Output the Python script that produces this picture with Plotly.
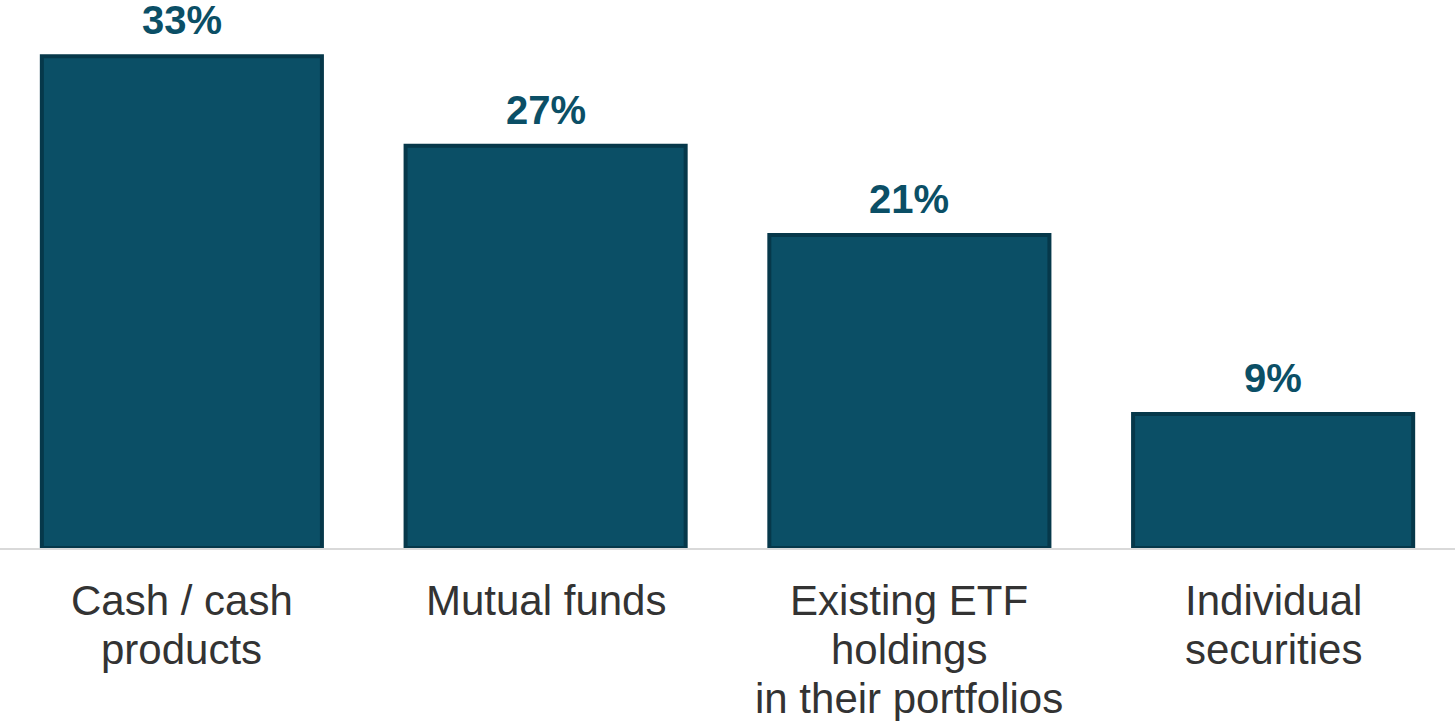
import plotly.graph_objects as go

# Share of respondents by funding source
categories = ["Cash / cash products", "Mutual funds", "Existing ETF holdings in their portfolios", "Individual securities"]
label_lines = [
    ["Cash / cash", "products"],
    ["Mutual funds"],
    ["Existing ETF", "holdings", "in their portfolios"],
    ["Individual", "securities"],
]
values = [33, 27, 21, 9]
value_labels = ["33%", "27%", "21%", "9%"]

BAR = "#0b4f66"
EDGE = "#06384a"
TEXT_DARK = "#0b4f66"
TEXT_GREY = "#333333"

fig = go.Figure()
fig.add_trace(go.Bar(
    x=categories,
    y=values,
    marker=dict(color=BAR, line=dict(color=EDGE, width=4)),
    hoverinfo="skip",
))

# Value labels above the bars
for cat, v, lab in zip(categories, values, value_labels):
    fig.add_annotation(
        x=cat, y=v, xref="x", yref="y",
        text=f"<b>{lab}</b>", showarrow=False,
        yanchor="bottom", yshift=12,
        font=dict(family="Arial, Liberation Sans, sans-serif", size=40, color=TEXT_DARK),
    )

# Category labels under the axis, one line at a time
for cat, lines in zip(categories, label_lines):
    for i, line in enumerate(lines):
        fig.add_annotation(
            x=cat, y=0, xref="x", yref="paper",
            text=line, showarrow=False,
            yanchor="middle", yshift=-(52 + 49 * i),
            font=dict(family="Arial, Liberation Sans, sans-serif", size=42, color=TEXT_GREY),
        )

fig.update_layout(
    width=1455, height=721,
    margin=dict(l=0, r=0, t=0, b=173),
    paper_bgcolor="white", plot_bgcolor="white",
    bargap=0.23,
    showlegend=False,
    xaxis=dict(
        range=[-0.5, 3.5], showticklabels=False, ticks="",
        showgrid=False, zeroline=False,
        showline=True, linecolor="#d9d9d9", linewidth=2,
    ),
    yaxis=dict(range=[0, 36.78], visible=False, showgrid=False, zeroline=False),
)

fig.write_html("out.html")
